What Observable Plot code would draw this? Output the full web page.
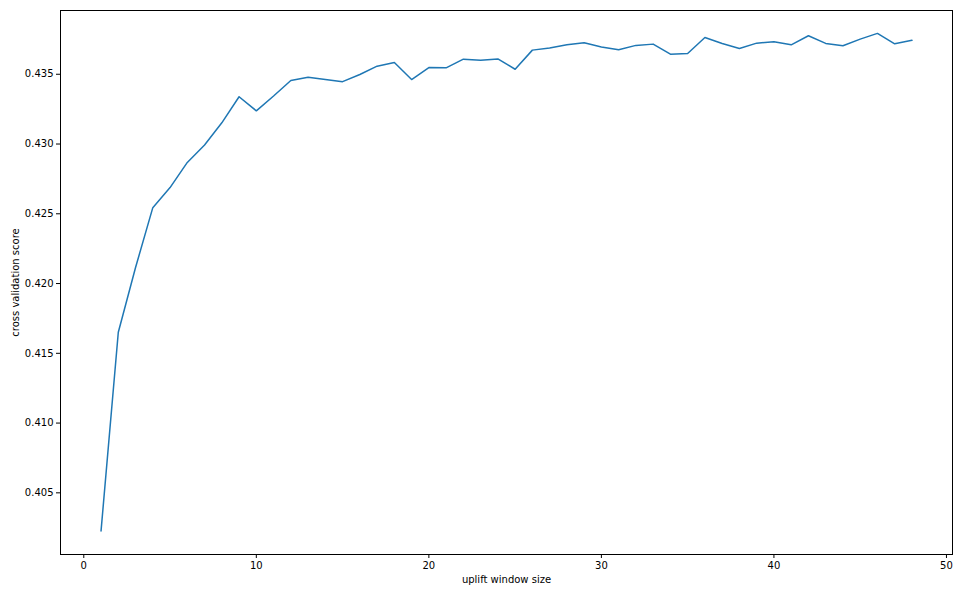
<!DOCTYPE html>
<html>
<head>
<meta charset="utf-8">
<script src="https://cdn.jsdelivr.net/npm/d3@7"></script>
<script src="https://cdn.jsdelivr.net/npm/@observablehq/plot@0.6"></script>
<style>
  html, body { margin: 0; padding: 0; background: #fff; }
  #chart { width: 964px; height: 595px; }
</style>
</head>
<body>
<div id="chart"></div>
<script>
const windowSizes = [1,2,3,4,5,6,7,8,9,10,11,12,13,14,15,16,17,18,19,20,21,22,23,24,25,26,27,28,29,30,31,32,33,34,35,36,37,38,39,40,41,42,43,44,45,46,47,48];
const scores = [
  0.40227, 0.41651, 0.42115, 0.42544, 0.42688, 0.42868, 0.42993, 0.43152, 0.43339, 0.43238,
  0.43344, 0.43455, 0.43478, 0.43462, 0.43447, 0.43498, 0.43558, 0.43584, 0.43462, 0.43548,
  0.43546, 0.43608, 0.43601, 0.43610, 0.43536, 0.43673, 0.43689, 0.43711, 0.43726, 0.43695,
  0.43675, 0.43707, 0.43716, 0.43644, 0.43649, 0.43764, 0.43721, 0.43685, 0.43723, 0.43733,
  0.43711, 0.43776, 0.43721, 0.43704, 0.43752, 0.43793, 0.43718, 0.43743
];
const xTicks = [0, 10, 20, 30, 40, 50];
const yTicks = [0.405, 0.410, 0.415, 0.420, 0.425, 0.430, 0.435];
const xLabel = "uplift window size";
const yLabel = "cross validation score";

const data = windowSizes.map((w, i) => ({w, s: scores[i]}));

const chart = Plot.plot({
  width: 964,
  height: 595,
  marginLeft: 60,
  marginRight: 12,
  marginTop: 10,
  marginBottom: 41,
  style: {fontFamily: "DejaVu Sans, sans-serif", fontSize: "10px", color: "#000", background: "#fff", overflow: "visible"},
  x: {domain: [-1.35, 50.35]},
  y: {domain: [0.40058, 0.43957]},
  marks: [
    Plot.frame({stroke: "#000", strokeWidth: 1}),
    Plot.axisX({ticks: xTicks, tickSize: 4, tickPadding: 3, tickFormat: d3.format("d"),
      label: xLabel, labelAnchor: "center", labelArrow: "none", labelOffset: 28, fontSize: 10}),
    Plot.axisY({ticks: yTicks, tickSize: 4, tickPadding: 3, tickFormat: d3.format(".3f"),
      label: yLabel, labelAnchor: "center", labelArrow: "none", labelOffset: 49, fontSize: 10}),
    Plot.line(data, {x: "w", y: "s", stroke: "#1f77b4", strokeWidth: 1.5})
  ]
});
document.getElementById("chart").appendChild(chart);
</script>
</body>
</html>
